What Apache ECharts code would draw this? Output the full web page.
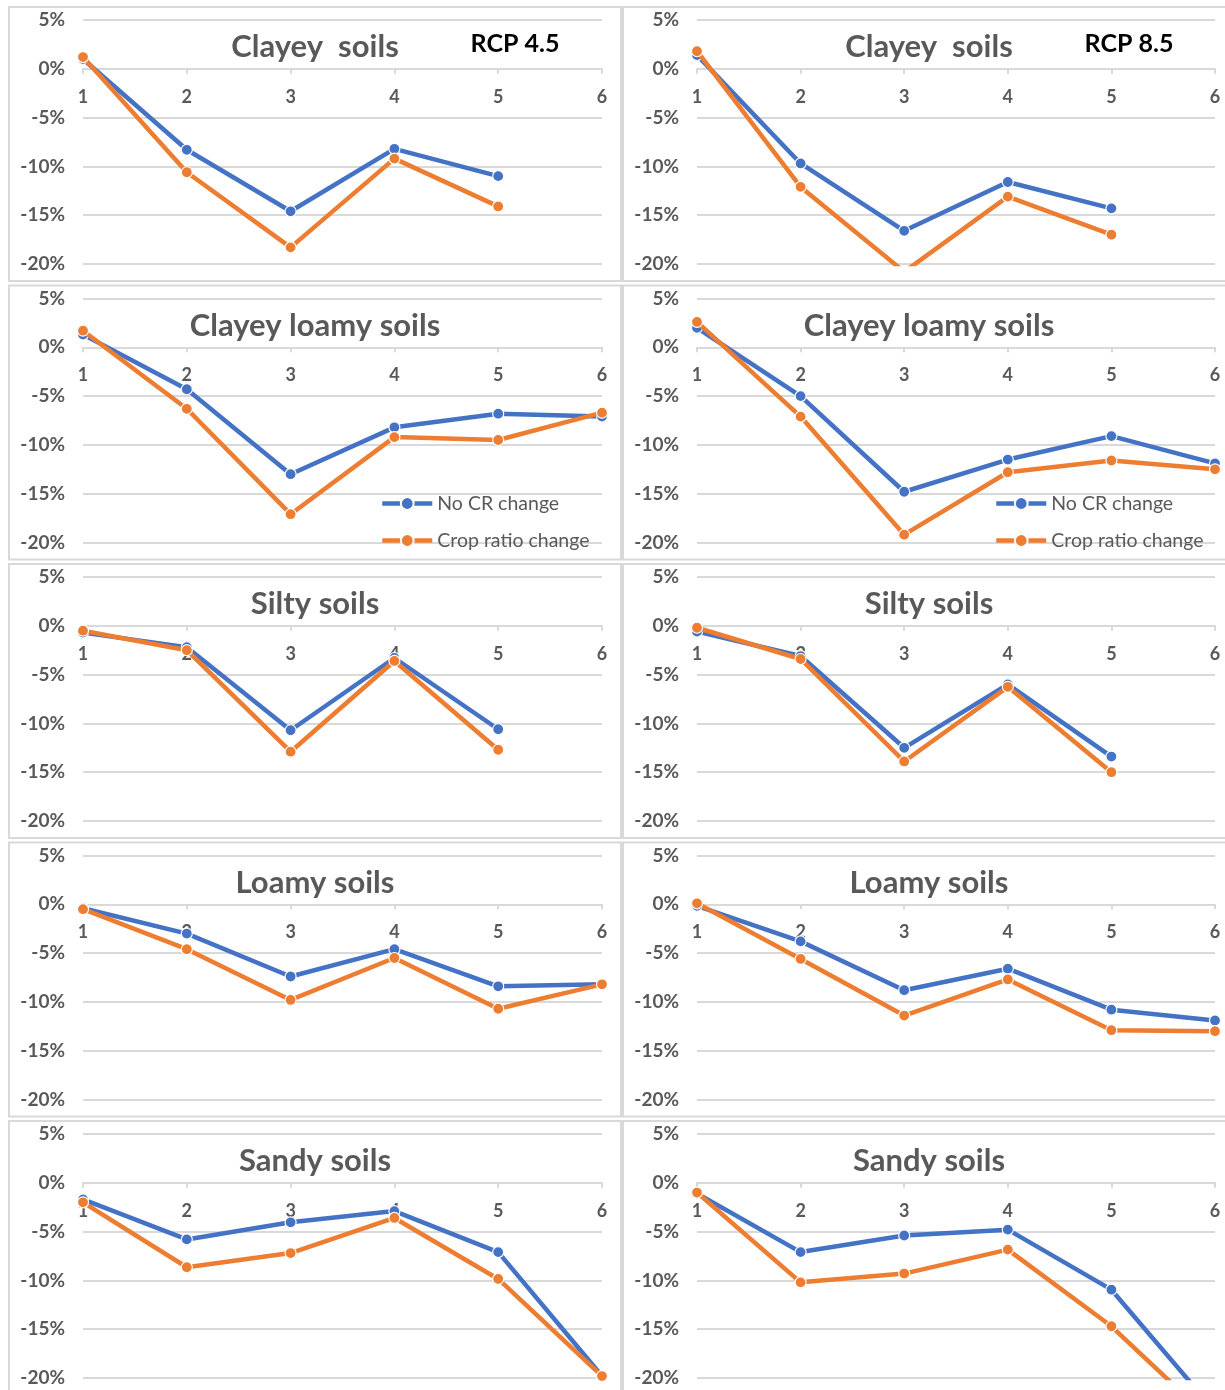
<!DOCTYPE html>
<html>
<head>
<meta charset="utf-8">
<script src="https://cdn.jsdelivr.net/npm/echarts@6/dist/echarts.min.js"></script>
<style>
html,body{margin:0;padding:0;background:#fff;}
#chart{width:1225px;height:1390px;}
</style>
</head>
<body>
<div id="chart"></div>
<script>
// ---- data ----
const categories = ['1', '2', '3', '4', '5', '6'];
const panelTitles = ['Clayey  soils', 'Clayey loamy soils', 'Silty soils', 'Loamy soils', 'Sandy soils'];
const scenarioLabels = ['RCP 4.5', 'RCP 8.5'];
const seriesNames = ['No CR change', 'Crop ratio change'];

// RCP 4.5 (left column)
const clayey45NoCR   = [1.0, -8.3, -14.6, -8.2, -11.0, null];
const clayey45Crop   = [1.2, -10.6, -18.3, -9.2, -14.1, null];
const clLoamy45NoCR  = [1.3, -4.3, -13.0, -8.2, -6.8, -7.1];
const clLoamy45Crop  = [1.7, -6.3, -17.1, -9.2, -9.5, -6.7];
const silty45NoCR    = [-0.7, -2.2, -10.7, -3.3, -10.6, null];
const silty45Crop    = [-0.5, -2.5, -12.9, -3.6, -12.7, null];
const loamy45NoCR    = [-0.4, -3.0, -7.4, -4.6, -8.4, -8.2];
const loamy45Crop    = [-0.5, -4.6, -9.8, -5.5, -10.7, -8.2];
const sandy45NoCR    = [-1.7, -5.8, -4.05, -2.9, -7.1, -19.8];
const sandy45Crop    = [-2.0, -8.65, -7.2, -3.6, -9.85, -19.8];

// RCP 8.5 (right column)
const clayey85NoCR   = [1.4, -9.7, -16.6, -11.6, -14.3, null];
const clayey85Crop   = [1.8, -12.1, -20.8, -13.1, -17.0, null];
const clLoamy85NoCR  = [2.0, -5.0, -14.8, -11.5, -9.1, -11.9];
const clLoamy85Crop  = [2.6, -7.1, -19.2, -12.8, -11.6, -12.5];
const silty85NoCR    = [-0.6, -3.1, -12.5, -6.0, -13.4, null];
const silty85Crop    = [-0.2, -3.4, -13.9, -6.25, -15.0, null];
const loamy85NoCR    = [-0.15, -3.8, -8.8, -6.6, -10.8, -11.9];
const loamy85Crop    = [0.1, -5.6, -11.4, -7.7, -12.9, -13.0];
const sandy85NoCR    = [-1.1, -7.1, -5.4, -4.8, -10.95, -23.4];
const sandy85Crop    = [-1.0, -10.2, -9.3, -6.85, -14.7, -24.7];

const panelData = [
  [[clayey45NoCR, clayey45Crop], [clayey85NoCR, clayey85Crop]],
  [[clLoamy45NoCR, clLoamy45Crop], [clLoamy85NoCR, clLoamy85Crop]],
  [[silty45NoCR, silty45Crop], [silty85NoCR, silty85Crop]],
  [[loamy45NoCR, loamy45Crop], [loamy85NoCR, loamy85Crop]],
  [[sandy45NoCR, sandy45Crop], [sandy85NoCR, sandy85Crop]]
];

// ---- layout / style ----
const FONT = 'Lato, "Open Sans", sans-serif';
const GRAY = '#595959';
const LINE_GRAY = '#d9d9d9';
const COLORS = ['#4472C4', '#ED7D31'];
const Y_MIN = -20, Y_MAX = 5;
const rowStep = 278.5;
const gridTop0 = 20;
const gridH = 244;
const colLeft = [83, 697];
const colWidth = [519, 518];
const panelX = [9, 623];
const panelW = [612, 612];
// the category axis sits on the 0% line
const zeroOffset = -gridH * (Y_MAX - 0) / (Y_MAX - Y_MIN);

const grids = [], xAxes = [], yAxes = [], series = [], graphics = [], legends = [];
let gi = 0;
for (let r = 0; r < 5; r++) {
  const top = gridTop0 + r * rowStep;
  for (let c = 0; c < 2; c++) {
    grids.push({ left: colLeft[c], top: top, width: colWidth[c], height: gridH, containLabel: false });
    xAxes.push({
      type: 'category', gridIndex: gi, data: categories, boundaryGap: false,
      position: 'top', offset: zeroOffset,
      axisLine: { onZero: false, lineStyle: { color: LINE_GRAY, width: 2 } },
      axisTick: { show: true, inside: true, length: 5, lineStyle: { color: LINE_GRAY, width: 2 } },
      axisLabel: { inside: true, margin: 19, color: GRAY, fontSize: 18, fontWeight: 'bold', fontFamily: FONT, interval: 0 },
      splitLine: { show: false }
    });
    yAxes.push({
      type: 'value', gridIndex: gi, min: Y_MIN, max: Y_MAX, interval: 5,
      axisLine: { show: false }, axisTick: { show: false },
      axisLabel: { margin: 18, color: GRAY, fontSize: 19, fontWeight: 'bold', fontFamily: FONT,
        formatter: v => v + '%' },
      splitLine: { lineStyle: { color: LINE_GRAY, width: 2 } }
    });
    const pair = panelData[r][c];
    for (let s = 0; s < 2; s++) {
      series.push({
        name: seriesNames[s], type: 'line', xAxisIndex: gi, yAxisIndex: gi,
        data: pair[s], clip: true, connectNulls: false,
        symbol: 'circle', symbolSize: 11, showAllSymbol: true,
        lineStyle: { color: COLORS[s], width: 4.5 },
        itemStyle: { color: COLORS[s], borderColor: '#fff', borderWidth: 1.2 },
        z: 3 + s, animation: false
      });
    }
    // panel border
    graphics.push({
      type: 'rect', z: -10, silent: true,
      shape: { x: panelX[c], y: 7 + r * rowStep, width: panelW[c], height: 274 },
      style: { fill: 'none', stroke: LINE_GRAY, lineWidth: 2 }
    });
    // panel title
    graphics.push({
      type: 'text', z: 10, silent: true,
      style: { text: panelTitles[r], x: panelX[c] + 306, y: top + 27, textAlign: 'center', textVerticalAlign: 'middle',
        font: 'bold 31px ' + FONT, fill: GRAY }
    });
    if (r === 0) {
      graphics.push({
        type: 'text', z: 10, silent: true,
        style: { text: scenarioLabels[c], x: colLeft[c] + 432, y: top + 24, textAlign: 'center', textVerticalAlign: 'middle',
          font: 'bold 25px ' + FONT, fill: '#000' }
      });
    }
    if (r === 1) {
      legends.push({
        data: seriesNames, orient: 'vertical', left: colLeft[c] + 297, top: top + 195, padding: 0,
        itemWidth: 50, itemHeight: 16, itemGap: 17, selectedMode: false,
        lineStyle: { width: 4.5 },
        textStyle: { color: GRAY, fontSize: 19.5, fontFamily: FONT }
      });
    }
    gi++;
  }
}

const chart = echarts.init(document.getElementById('chart'), null, { renderer: 'canvas' });
chart.setOption({
  backgroundColor: '#fff',
  animation: false,
  grid: grids, xAxis: xAxes, yAxis: yAxes, series: series,
  legend: legends, graphic: graphics
});
</script>
</body>
</html>
